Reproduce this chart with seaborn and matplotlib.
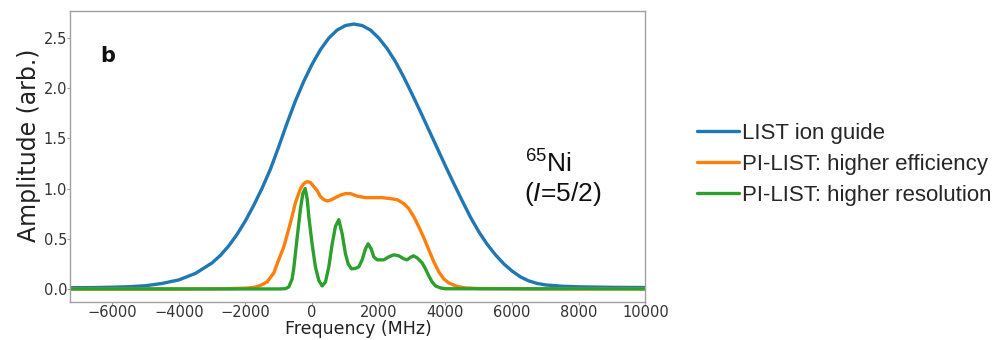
import matplotlib
matplotlib.use("Agg")
import matplotlib.pyplot as plt
import numpy as np
import pandas as pd
import seaborn as sns

# ---- data -------------------------------------------------------------
labels = ["LIST ion guide", "PI-LIST: higher efficiency", "PI-LIST: higher resolution"]
colors = ["#1f77b4", "#ff7f0e", "#2ca02c"]

freq_guide = [-7250, -6500, -6000, -5500, -5000, -4500, -4000, -3500, -3000, -2750,
              -2500, -2250, -2000, -1750, -1500, -1250, -1000, -750, -500, -250,
              0, 250, 500, 750, 1000, 1250, 1500, 1750, 2000, 2250,
              2500, 2750, 3000, 3250, 3500, 3750, 4000, 4250, 4500, 4750,
              5000, 5250, 5500, 5750, 6000, 6250, 6500, 6750, 7000, 7500,
              8000, 9000, 10000]
amp_guide = [0.012, 0.014, 0.017, 0.022, 0.032, 0.055, 0.09, 0.155, 0.26, 0.335,
             0.43, 0.545, 0.68, 0.835, 1.005, 1.195, 1.42, 1.655, 1.875, 2.07,
             2.24, 2.385, 2.50, 2.58, 2.625, 2.64, 2.625, 2.58, 2.50, 2.395,
             2.265, 2.11, 1.94, 1.765, 1.585, 1.405, 1.225, 1.05, 0.88, 0.715,
             0.57, 0.445, 0.34, 0.25, 0.178, 0.12, 0.08, 0.055, 0.04, 0.027,
             0.021, 0.016, 0.014]

freq_eff = [-7250, -4000, -3000, -2500, -2000, -1750, -1550, -1350, -1150, -1050,
            -850, -650, -500, -350, -250, -150, -50, 50, 150, 250,
            350, 450, 550, 700, 850, 1000, 1150, 1350, 1600, 1850,
            2100, 2350, 2550, 2750, 2900, 3050, 3200, 3350, 3500, 3650,
            3800, 3950, 4100, 4350, 4600, 5000, 6000, 10000]
amp_eff = [0.0, 0.0, 0.001, 0.003, 0.008, 0.015, 0.035, 0.07, 0.16, 0.25,
           0.42, 0.66, 0.86, 1.00, 1.05, 1.07, 1.06, 1.02, 0.98, 0.92,
           0.89, 0.877, 0.885, 0.91, 0.935, 0.95, 0.95, 0.925, 0.91, 0.91,
           0.91, 0.90, 0.89, 0.85, 0.80, 0.72, 0.62, 0.51, 0.39, 0.27,
           0.17, 0.10, 0.06, 0.025, 0.01, 0.004, 0.002, 0.002]

freq_res = [-7250, -1000, -800, -700, -600, -550, -450, -350, -280, -210,
            -150, -100, 0, 100, 200, 300, 400, 500, 600, 700,
            800, 900, 1000, 1080, 1180, 1300, 1400, 1500, 1600, 1680,
            1770, 1850, 1950, 2150, 2300, 2450, 2600, 2750, 2850, 2950,
            3040, 3150, 3300, 3400, 3500, 3600, 3700, 3850, 4000, 10000]
amp_res = [0.0, 0.0, 0.003, 0.02, 0.10, 0.21, 0.51, 0.80, 0.95, 1.00,
           0.90, 0.72, 0.445, 0.216, 0.085, 0.03, 0.07, 0.22, 0.445, 0.625,
           0.69, 0.55, 0.35, 0.25, 0.20, 0.205, 0.22, 0.29, 0.40, 0.45,
           0.40, 0.32, 0.29, 0.29, 0.32, 0.34, 0.33, 0.30, 0.29, 0.315,
           0.33, 0.31, 0.26, 0.20, 0.13, 0.07, 0.03, 0.01, 0.002, 0.0]

xticks = [-6000, -4000, -2000, 0, 2000, 4000, 6000, 8000, 10000]
yticks = [0.0, 0.5, 1.0, 1.5, 2.0, 2.5]

# ---- long-form table ---------------------------------------------------
df = pd.concat([
    pd.DataFrame({"freq": freq_guide, "amp": amp_guide, "setup": labels[0]}),
    pd.DataFrame({"freq": freq_eff, "amp": amp_eff, "setup": labels[1]}),
    pd.DataFrame({"freq": freq_res, "amp": amp_res, "setup": labels[2]}),
], ignore_index=True)

# ---- figure ------------------------------------------------------------
sns.set_theme(style="ticks")
plt.rcParams["font.family"] = ["DejaVu Sans"]
plt.rcParams["mathtext.fontset"] = "custom"
plt.rcParams["mathtext.rm"] = "Liberation Sans"
plt.rcParams["mathtext.it"] = "Liberation Sans:italic"

fig = plt.figure(figsize=(10.04, 3.40), dpi=100)
ax = fig.add_axes([0.0702, 0.1118, 0.5727, 0.8559])

sns.lineplot(data=df, x="freq", y="amp", hue="setup", hue_order=labels,
             palette=colors, linewidth=2.4, legend=False, ax=ax)

ax.set_xlim(-7250, 10000)
ax.set_ylim(-0.13, 2.77)
ax.set_xticks(xticks)
ax.set_yticks(yticks)
ax.set_xticklabels([f"{t:d}".replace("-", "\u2212") for t in xticks])
ax.set_yticklabels([f"{t:.1f}" for t in yticks])

for side in ["left", "right", "top", "bottom"]:
    ax.spines[side].set_visible(True)
    ax.spines[side].set_color("#a0a0a0")
    ax.spines[side].set_linewidth(1.0)

ax.tick_params(axis="both", length=2, width=0.8, color="#a0a0a0",
               labelcolor="#333333", labelsize=10.5, pad=0.5)

ax.set_xlabel("Frequency (MHz)", fontsize=12.5, color="#222222", labelpad=0)
ax.set_ylabel("Amplitude (arb.)", fontsize=17, color="#222222")
ax.yaxis.set_label_coords(-0.052, 0.54)

ax.text(0.051, 0.847, "b", transform=ax.transAxes, fontsize=15,
        fontweight="bold", ha="left", va="center", color="#111111")

ax.text(0.790, 0.444, r"$^{65}$Ni", transform=ax.transAxes, fontsize=19,
        family="Liberation Sans", ha="left", va="baseline", color="#111111")
ax.text(0.788, 0.348, r"($\mathit{I}$=5/2)", transform=ax.transAxes, fontsize=19,
        family="Liberation Sans", ha="left", va="baseline", color="#111111")

ax.legend(handles=ax.lines[:3], labels=labels, loc="center left",
          bbox_to_anchor=(1.089, 0.472), frameon=False, borderpad=0,
          borderaxespad=0, handlelength=1.9, handletextpad=0.15,
          labelspacing=0.45, prop={"family": "Liberation Sans", "size": 16})

fig.savefig("out.png", dpi=100)
